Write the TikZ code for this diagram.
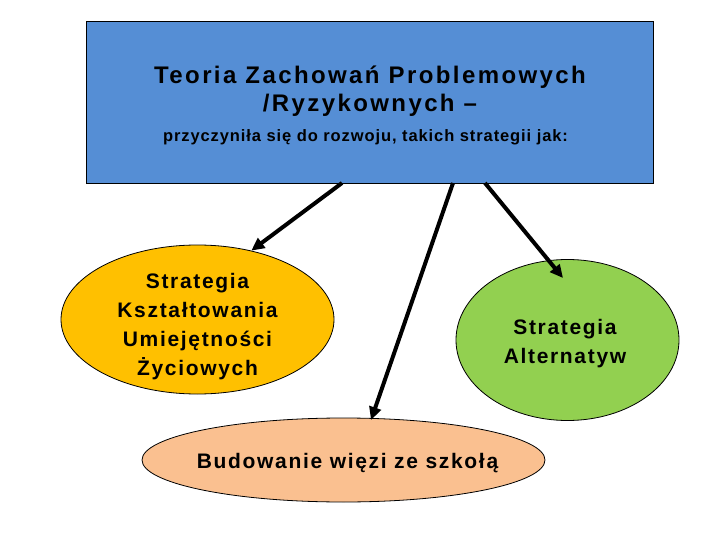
\documentclass[tikz,border=0pt]{standalone}
\usepackage{fontspec}
\setmainfont{Liberation Sans}
\newfontfamily\rozstaw[LetterSpace=8]{Liberation Sans}
\usepackage{xcolor}
\usepackage{tikz}
\usetikzlibrary{arrows.meta,shapes.geometric}
\definecolor{teoriablue}{RGB}{85,142,213}
\definecolor{strzolty}{RGB}{255,192,0}
\definecolor{strzielony}{RGB}{146,208,80}
\definecolor{strbrzoskw}{RGB}{250,192,144}

\begin{document}
\begin{tikzpicture}[x=1pt, y=-1pt, >={Triangle[length=13pt,width=12pt]},
    strzalka/.style={->, line width=4pt},
    elipsa/.style={ellipse, draw=black, line width=0.8pt, inner sep=0pt},
    napis/.style={align=center, anchor=base, inner sep=0pt,
        font=\rozstaw\bfseries\fontsize{21}{28.7}\selectfont}]
    \useasboundingbox (0,0) rectangle (720,540);
    % prostokat z tytulem
    \node[draw=black, line width=0.8pt, fill=teoriablue, minimum width=567pt,
        minimum height=162pt, inner sep=0pt] (box) at (369.5,102) {};
    \node[anchor=base, font=\addfontfeatures{LetterSpace=10}\bfseries\fontsize{24}{28}\selectfont]
        (tyt1) at (370,83.5) {Teoria Zachowań Problemowych};
    \node[anchor=base, font=\addfontfeatures{LetterSpace=10}\bfseries\fontsize{24}{28}\selectfont]
        (tyt2) at (370,111.5) {/Ryzykownych –};
    \node[anchor=base, font=\addfontfeatures{LetterSpace=5.5}\bfseries\fontsize{16.5}{19}\selectfont]
        (podtyt) at (365.5,141.5) {przyczyniła się do rozwoju, takich strategii jak:};
    % elipsy ze strategiami
    \node[elipsa, fill=strzolty, minimum width=273pt, minimum height=149pt] (zolta)
        at (197.5,319.5) {};
    \node[elipsa, fill=strzielony, minimum width=223pt, minimum height=161pt] (zielona)
        at (567.5,340) {};
    \node[elipsa, fill=strbrzoskw, minimum width=403pt, minimum height=84pt] (brzoskw)
        at (343.5,460) {};
    \node[napis] (zoltanapis) at (197.5,375)
        {Strategia\\Kształtowania\\Umiejętności\\Życiowych};
    \node[napis] (zielonanapis) at (565,363) {Strategia\\Alternatyw};
    \node[napis] (brzoskwnapis) at (347.5,468) {Budowanie więzi ze szkołą};
    % strzalki od prostokata
    \coordinate (s1) at (342,183);
    \coordinate (s2) at (453,183);
    \coordinate (s3) at (485,183);
    \coordinate (k1) at (zolta.52);
    \coordinate (k2) at (371,420);
    \coordinate (k3) at (563,278);
    \draw[strzalka] (s1) -- (k1);
    \draw[strzalka] (s2) -- (k2);
    \draw[strzalka] (s3) -- (k3);
\end{tikzpicture}
\end{document}
